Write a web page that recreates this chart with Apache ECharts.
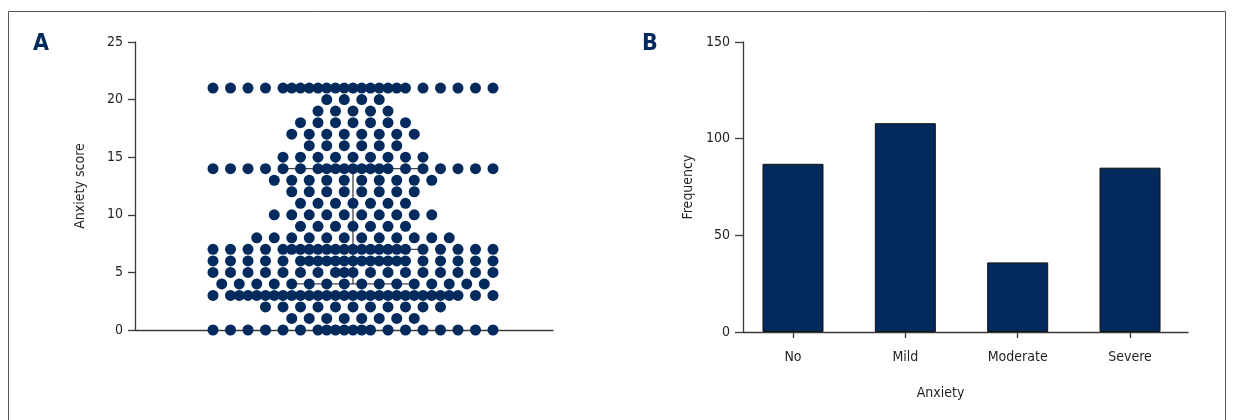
<!DOCTYPE html>
<html><head><meta charset="utf-8">
<script src="https://cdn.jsdelivr.net/npm/echarts@6/dist/echarts.min.js"></script>
<style>html,body{margin:0;padding:0;background:#fff}#c{width:1235px;height:420px}</style>
</head><body><div id="c"></div>
<script>
// ---- Data ----
const scores      = [0,1,2,3,4,5,6,7,8,9,10,11,12,13,14,15,16,17,18,19,20,21];
const scoreCounts = [20,8,11,30,16,18,23,24,12,7,10,7,8,10,21,9,6,8,7,5,4,24];
const quartileLow = 4;
const medianScore = 7;
const quartileHigh = 14;
const yTicksA = [0,5,10,15,20,25];
const categories = ['No','Mild','Moderate','Severe'];
const frequencies = [87,108,36,85];
const yTicksB = [0,50,100,150];

// ---- Layout helpers (beeswarm, computed from counts) ----
const FONT = "'Liberation Sans Narrow','DejaVu Sans Condensed','Roboto Condensed',sans-serif";
const NAVY = '#022a5c';
const INK = '#231f20';
const SLOTS = 17, STEP = 17.5, HALF_CAP = 65;
function rowOffsets(n){
  const res = [];
  if (n <= SLOTS) {
    for (let i = 0; i < n; i++) res.push((i - (n - 1) / 2) * STEP);
  } else {
    for (let k = 0; k < SLOTS; k++) res.push((k - 8) * STEP);
    const halves = [];
    for (let k = 0; k < SLOTS - 1; k++) halves.push(k - 7.5);
    halves.sort((a, b) => Math.abs(a) - Math.abs(b) || a - b);
    for (let i = 0; i < n - SLOTS; i++) res.push(halves[i % halves.length] * STEP);
  }
  return res;
}
const dots = [];
scores.forEach((s, i) => rowOffsets(scoreCounts[i]).forEach(o => dots.push([o, s])));

const barData = categories.map((c, i) => [i, frequencies[i]]);

const axisLineStyle = {color: '#3a3a3a', width: 1.3};
const labelStyle = {fontFamily: FONT, fontSize: 14, color: INK};

const chart = echarts.init(document.getElementById('c'), null, {renderer: 'canvas'});
chart.setOption({
  animation: false,
  backgroundColor: '#fff',
  textStyle: {fontFamily: FONT},
  graphic: [
    {type: 'rect', shape: {x: 8.5, y: 11.5, width: 1217, height: 440}, style: {fill: 'none', stroke: '#555', lineWidth: 1}, silent: true},
    {type: 'text', left: 33, top: 33, style: {text: 'A', font: 'bold 23px ' + FONT, fill: NAVY}},
    {type: 'text', left: 642, top: 33, style: {text: 'B', font: 'bold 23px ' + FONT, fill: NAVY}}
  ],
  grid: [
    {left: 135, top: 42, width: 418, height: 288, outerBoundsMode: 'none', containLabel: false},
    {left: 743, top: 42, width: 445, height: 290, outerBoundsMode: 'none', containLabel: false}
  ],
  xAxis: [
    {gridIndex: 0, type: 'value', min: -218, max: 200, axisLine: {show: true, onZero: false, lineStyle: axisLineStyle},
     axisTick: {show: false}, axisLabel: {show: false}, splitLine: {show: false}},
    {gridIndex: 1, type: 'value', min: -0.445, max: 3.516,
     axisLine: {show: true, onZero: false, lineStyle: axisLineStyle},
     axisTick: {show: true, length: 6, lineStyle: axisLineStyle, customValues: [0,1,2,3]},
     axisLabel: Object.assign({margin: 18, customValues: [0,1,2,3], formatter: v => categories[Math.round(v)]}, labelStyle),
     splitLine: {show: false},
     name: 'Anxiety', nameLocation: 'middle', nameGap: 54,
     nameTextStyle: Object.assign({padding: [0, 50, 0, 0]}, labelStyle)}
  ],
  yAxis: [
    {gridIndex: 0, type: 'value', min: 0, max: 25, interval: 5,
     axisLine: {show: true, onZero: false, lineStyle: axisLineStyle},
     axisTick: {show: true, length: 7, lineStyle: axisLineStyle},
     axisLabel: Object.assign({margin: 12}, labelStyle),
     splitLine: {show: false},
     name: 'Anxiety score', nameLocation: 'middle', nameGap: 48, nameRotate: 90, nameTextStyle: labelStyle},
    {gridIndex: 1, type: 'value', min: 0, max: 150, interval: 50,
     axisLine: {show: true, onZero: false, lineStyle: axisLineStyle},
     axisTick: {show: true, length: 8, lineStyle: axisLineStyle},
     axisLabel: Object.assign({margin: 13}, labelStyle),
     splitLine: {show: false},
     name: 'Frequency', nameLocation: 'middle', nameGap: 48, nameRotate: 90, nameTextStyle: labelStyle}
  ],
  series: [
    {type: 'line', xAxisIndex: 0, yAxisIndex: 0, symbol: 'none', z: 2, lineStyle: {color: '#444', width: 1.3},
     data: [[-HALF_CAP, quartileLow], [HALF_CAP, quartileLow]]},
    {type: 'line', xAxisIndex: 0, yAxisIndex: 0, symbol: 'none', z: 2, lineStyle: {color: '#444', width: 1.3},
     data: [[-HALF_CAP, quartileHigh], [HALF_CAP, quartileHigh]]},
    {type: 'line', xAxisIndex: 0, yAxisIndex: 0, symbol: 'none', z: 2, lineStyle: {color: '#444', width: 1.3},
     data: [[-HALF_CAP, medianScore], [HALF_CAP, medianScore]]},
    {type: 'line', xAxisIndex: 0, yAxisIndex: 0, symbol: 'none', z: 2, lineStyle: {color: '#444', width: 1.3},
     data: [[0, quartileLow], [0, quartileHigh]]},
    {type: 'scatter', xAxisIndex: 0, yAxisIndex: 0, symbol: 'circle', symbolSize: 11, z: 5,
     itemStyle: {color: NAVY, opacity: 1}, data: dots},
    {type: 'bar', xAxisIndex: 1, yAxisIndex: 1, barWidth: 61,
     itemStyle: {color: NAVY, borderColor: '#111', borderWidth: 1}, data: barData}
  ]
});
</script>
</body></html>
